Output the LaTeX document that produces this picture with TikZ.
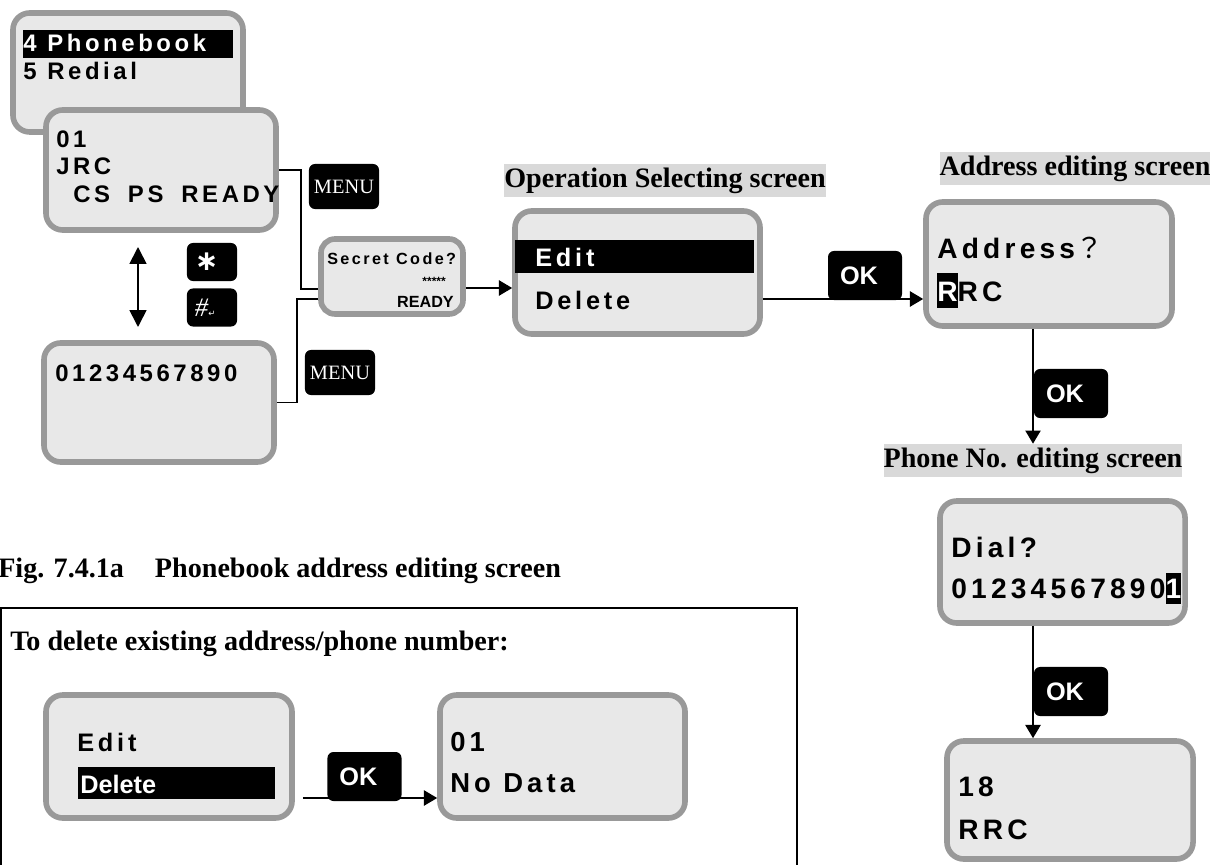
\documentclass[tikz,border=0pt]{standalone}
\usepackage{fontspec}
\setmainfont{Liberation Serif}
\newfontfamily\lcdfont[LetterSpace=15]{Liberation Sans}
\newfontfamily\keyfont{Liberation Sans}
\newfontfamily\symfont{DejaVu Sans}
\newfontfamily\cjkfont{Noto Sans CJK JP}
\usetikzlibrary{arrows.meta,positioning,calc}

\definecolor{lcdfill}{HTML}{E8E8E8}
\definecolor{lcdrim}{HTML}{999999}
\definecolor{capfill}{HTML}{D9D9D9}

% black cursor cell on the display
\newcommand\cursorbox[2][24.8pt]{{\setlength\fboxsep{0pt}\colorbox{black}{\rule[-4.3pt]{0pt}{#1}\textcolor{white}{#2}}}}
% wide space of the display font
\newcommand\lcdgap{\hspace{0.45em}}

\begin{document}
\begin{tikzpicture}[
  x=0.025cm, y=-0.025cm,
  >={Triangle[length=0.33cm,width=0.38cm]},
  screen/.style={draw=lcdrim, fill=lcdfill, line width=0.14cm, rounded corners=0.42cm,
    minimum width=6.15cm, minimum height=3.05cm, inner sep=0},
  lcd/.style={anchor=base west, inner sep=0, font=\lcdfont\bfseries\fontsize{#1}{#1}\selectfont},
  lcd/.default=17,
  keycap/.style={fill=black, text=white, rounded corners=0.15cm, inner sep=0},
  menukey/.style={keycap, minimum width=1.75cm, minimum height=1.125cm, font=\fontsize{14.5}{16}\selectfont},
  okkey/.style={keycap, minimum height=1.225cm, text width=1.25cm, inner xsep=0.3cm, align=left,
    font=\keyfont\bfseries\fontsize{18}{20}\selectfont},
  padkey/.style={keycap, minimum height=0.95cm, text width=0.85cm, inner xsep=0.2cm, align=left},
  screenlbl/.style={fill=capfill, inner xsep=0, inner ysep=0, minimum height=0.825cm,
    font=\bfseries\fontsize{20}{24}\selectfont},
  plain/.style={anchor=base west, inner sep=0, font=\bfseries\fontsize{20}{24}\selectfont},
  wire/.style={line width=1.2pt},
  flow/.style={wire, ->},
  ]
\useasboundingbox (0,0) rectangle (1221,865);

% menu and standby
\node[screen, minimum width=5.75cm, minimum height=2.975cm] (menu) at (128,72.5) {};
\fill (23,30) rectangle (233,58);
\node[lcd, text=white] (menu1) at (23,52) {4\lcdgap Phonebook};
\node[lcd] (menu2) at (23,80) {5\lcdgap Redial};

\node[screen, minimum width=5.75cm, minimum height=3cm] (standby) at (161,170) {};
\node[lcd] (sb1) at (56,148) {01};
\node[lcd] (sb2) at (56,175) {JRC};
\node[lcd] (sb3) at (73,203) {CS\hspace{0.75em}PS\hspace{0.75em}READY};

\coordinate (up) at (138,247);
\coordinate (down) at (138,327);
\draw[wire, <->, >={Triangle[length=0.42cm,width=0.42cm]}] (up) -- (down);
\node[padkey] (star) at (212,262) {\symfont\bfseries\fontsize{20}{20}\selectfont ∗};
\node[padkey] (hash) at (212,307.5) {\fontsize{19}{19}\selectfont{\itshape\#}{\symfont\fontsize{6}{6}\selectfont ↵}};

\node[screen, minimum width=5.75cm, minimum height=2.975cm] (numpad) at (159,402.5) {};
\node[lcd] (np1) at (55,382) {01234567890};

% secret code
\node[menukey] (menukey1) at (344,186.5) {MENU};
\node[menukey] (menukey2) at (340,372.5) {MENU};
\node[screen, minimum width=3.55cm, minimum height=1.875cm, rounded corners=0.35cm] (secret) at (392,276.5) {};
\node[lcd=11.5] (sc1) at (327,265) {Secret\lcdgap Code?};
\node[anchor=base east, inner sep=0, font=\keyfont\bfseries\fontsize{8.5}{8.5}\selectfont] (sc2) at (446,286) {*****};
\node[anchor=base east, inner sep=0, font=\keyfont\bfseries\fontsize{11.5}{11.5}\selectfont] (sc3) at (454,308) {READY};

\coordinate (j1) at (301,289);
\coordinate (j2) at (297,299);
\draw[wire] (standby.east) -| (j1) -- (j1 -| secret.west);
\draw[wire] (numpad.east) -| (j2) -- (j2 -| secret.west);

% operation selecting
\node[screenlbl] (oplbl) at (665,180.5) {Operation Selecting screen};
\node[screen, minimum width=6.125cm, minimum height=3.075cm] (opsel) at (637.5,272.5) {};
\fill (515,240) rectangle (754,273);
\node[lcd=18, text=white] (op1) at (535,267) {Edit};
\node[lcd=18] (op2) at (535,310) {Delete};

\coordinate (r1) at (0,288);
\draw[flow] (secret.east |- r1) -- (opsel.west |- r1);

% address editing
\node[screenlbl] (addrlbl) at (1075,168.5) {Address editing screen};
\node[screen, minimum height=3.1cm] (address) at (1049,264) {};
\node[lcd=20] (ad1) at (937,259) {Address{\mdseries\cjkfont\fontsize{20}{20}\selectfont ？}};
\node[lcd=20] (ad2) at (937,302) {\cursorbox{R}RC};
\node[okkey] (ok1) at (865,275.5) {OK};

\coordinate (r2) at (0,299);
\draw[flow] (opsel.east |- r2) -- (address.west |- r2);

% phone no. editing
\node[screenlbl] (phonelbl) at (1033,460.5) {Phone No. editing screen};
\node[okkey] (ok2) at (1071,393.5) {OK};
\draw[flow] (address.south -| phonelbl) -- (phonelbl.north);

\node[screen, minimum width=6.125cm] (dial) at (1062.5,562) {};
\node[lcd=20] (di1) at (951,557) {Dial?};
\node[lcd=20] (di2) at (951,598) {01234567890\cursorbox[22.1pt]{1}};

\node[screen, minimum height=2.95cm] (final) at (1070,800) {};
\node[lcd=20] (fi1) at (958,796) {18};
\node[lcd=20] (fi2) at (958,839) {RRC};
\node[okkey] (ok3) at (1071,691.5) {OK};
\draw[flow] (dial.south -| phonelbl) -- (final.north -| phonelbl);

% caption and delete note
\node[plain] (figcap) at (-2,577) {Fig. 7.4.1a\hspace{1.1em}Phonebook address editing screen};
\draw[line width=1pt] (1,880) |- (797,608) -- (797,880);
\node[plain] (delnote) at (10,650) {To delete existing address/phone number:};

\node[screen, minimum height=3.075cm] (editdel) at (169,756.5) {};
\node[lcd=18] (ed1) at (77,751) {Edit};
\fill (78,767) rectangle (275,799);
\node[anchor=base west, inner sep=0, text=white, font=\keyfont\bfseries\fontsize{18}{18}\selectfont] (ed2) at (80,793) {Delete};

\node[screen, minimum width=6.125cm, minimum height=3.075cm] (nodata) at (562.5,756.5) {};
\node[lcd=19.5] (nd1) at (450,751) {01};
\node[lcd=19.5] (nd2) at (450,792) {No\lcdgap Data};
\node[okkey] (ok4) at (364.5,776.5) {OK};

\coordinate (r3) at (0,798);
\draw[flow] ([xshift=0.2cm]editdel.east |- r3) -- (nodata.west |- r3);

\end{tikzpicture}
\end{document}
